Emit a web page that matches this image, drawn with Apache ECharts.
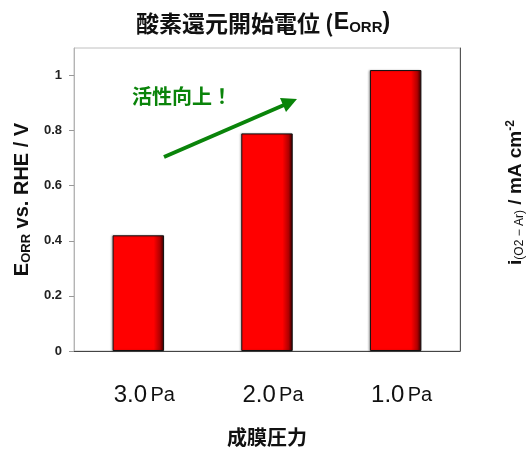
<!DOCTYPE html>
<html>
<head>
<meta charset="utf-8">
<script src="https://cdn.jsdelivr.net/npm/echarts@6/dist/echarts.min.js"></script>
<style>
  html, body { margin: 0; padding: 0; background: #fff; }
  #chart { width: 526px; height: 450px; }
</style>
</head>
<body>
<div id="chart"></div>
<script>
// Onset potential of oxygen reduction vs. deposition pressure
const pressures = ['3.0', '2.0', '1.0'];
const pressureUnit = 'Pa';
const onsetPotential = [0.42, 0.79, 1.02];
const yTicks = [0, 0.2, 0.4, 0.6, 0.8, 1];

const FONT = 'Liberation Sans, Arial, Helvetica, sans-serif';
const CJK = '"Noto Sans CJK JP", "Noto Sans CJK SC", sans-serif';

const chart = echarts.init(document.getElementById('chart'), null, { renderer: 'canvas' });

const barFill = new echarts.graphic.LinearGradient(0, 0, 1, 0, [
  { offset: 0, color: '#ff0000' },
  { offset: 0.8, color: '#ff0000' },
  { offset: 0.92, color: '#b00000' },
  { offset: 1, color: '#3a0000' }
]);

chart.setOption({
  animation: false,
  backgroundColor: '#fff',
  title: {
    text: '酸素還元開始電位 ({b|E}{s|ORR}{b|)}',
    left: 'center',
    top: 6,
    textStyle: {
      fontFamily: CJK,
      fontSize: 23,
      fontWeight: 'bold',
      color: '#111',
      rich: {
        b: { fontFamily: FONT, fontSize: 23, fontWeight: 'bold', color: '#111' },
        s: { fontFamily: FONT, fontSize: 15, fontWeight: 'bold', color: '#111', verticalAlign: 'bottom', padding: [9, 0, 0, 0] }
      }
    }
  },
  grid: {
    left: 74,
    right: 66,
    top: 48,
    bottom: 99,
    outerBoundsMode: 'none',
    containLabel: false,
    show: true,
    borderColor: '#c0c0c0',
    borderWidth: 1
  },
  xAxis: {
    type: 'category',
    data: pressures,
    name: '成膜圧力',
    nameLocation: 'middle',
    nameGap: 76,
    nameTextStyle: { fontFamily: CJK, fontSize: 20, fontWeight: 'bold', color: '#111' },
    axisLine: { show: true, lineStyle: { color: '#444', width: 1 } },
    axisTick: { show: false },
    axisLabel: {
      margin: 32,
      padding: [0, 0, 0, 12],
      formatter: v => '{n|' + v + '} {u|' + pressureUnit + '}',
      rich: {
        n: { fontFamily: FONT, fontSize: 24, color: '#111' },
        u: { fontFamily: FONT, fontSize: 20, color: '#111' }
      }
    }
  },
  yAxis: [
    {
      type: 'value',
      min: 0,
      max: 1.1,
      interval: 0.2,
      name: '{b|E}{s|ORR}{b| vs. RHE / V}',
      nameLocation: 'middle',
      nameGap: 41,
      nameRotate: 90,
      nameTextStyle: {
        rich: {
          b: { fontFamily: FONT, fontSize: 20, fontWeight: 'bold', color: '#111' },
          s: { fontFamily: FONT, fontSize: 13, fontWeight: 'bold', color: '#111', verticalAlign: 'bottom', padding: [9, 0, 0, 0] }
        }
      },
      axisLine: { show: true, lineStyle: { color: '#b4b4b4', width: 1 } },
      axisTick: { show: true, inside: false, length: 5, lineStyle: { color: '#999' }, customValues: yTicks },
      splitLine: { show: false },
      axisLabel: {
        customValues: yTicks,
        margin: 12,
        fontFamily: FONT,
        fontSize: 13,
        fontWeight: 'bold',
        color: '#222',
        formatter: v => String(Math.round(v * 10) / 10)
      }
    },
    {
      type: 'value',
      position: 'right',
      min: 0,
      max: 1.1,
      name: '{b|i}{s|(O2 − Ar)}{b| / mA cm}{p|-2}',
      nameLocation: 'middle',
      nameGap: 45,
      nameRotate: 90,
      nameTextStyle: {
        padding: [0, 0, 0, 14],
        rich: {
          b: { fontFamily: FONT, fontSize: 19, fontWeight: 'bold', color: '#111' },
          s: { fontFamily: FONT, fontSize: 12, color: '#111', verticalAlign: 'bottom', padding: [9, 0, 0, 0] },
          p: { fontFamily: FONT, fontSize: 12, fontWeight: 'bold', color: '#111', verticalAlign: 'top', padding: [0, 0, 9, 0] }
        }
      },
      axisLine: { show: true, lineStyle: { color: '#555', width: 1 } },
      axisTick: { show: false },
      axisLabel: { show: false },
      splitLine: { show: false }
    }
  ],
  series: [
    {
      type: 'bar',
      data: onsetPotential,
      barWidth: '40%',
      itemStyle: {
        color: barFill,
        borderColor: '#111',
        borderWidth: 1,
        shadowColor: 'rgba(0,0,0,0.25)',
        shadowBlur: 2,
        shadowOffsetX: -1
      }
    }
  ],
  graphic: [
    {
      type: 'text',
      left: 132,
      top: 86,
      style: {
        text: '活性向上！',
        fontFamily: CJK,
        fontSize: 20,
        fontWeight: 'bold',
        fill: '#0a840a'
      }
    },
    {
      type: 'line',
      shape: { x1: 164, y1: 157, x2: 284, y2: 105 },
      style: { stroke: '#0a840a', lineWidth: 4 }
    },
    {
      type: 'polygon',
      shape: { points: [[297, 99], [280, 98], [286, 112]] },
      style: { fill: '#0a840a' }
    }
  ]
});
</script>
</body>
</html>
